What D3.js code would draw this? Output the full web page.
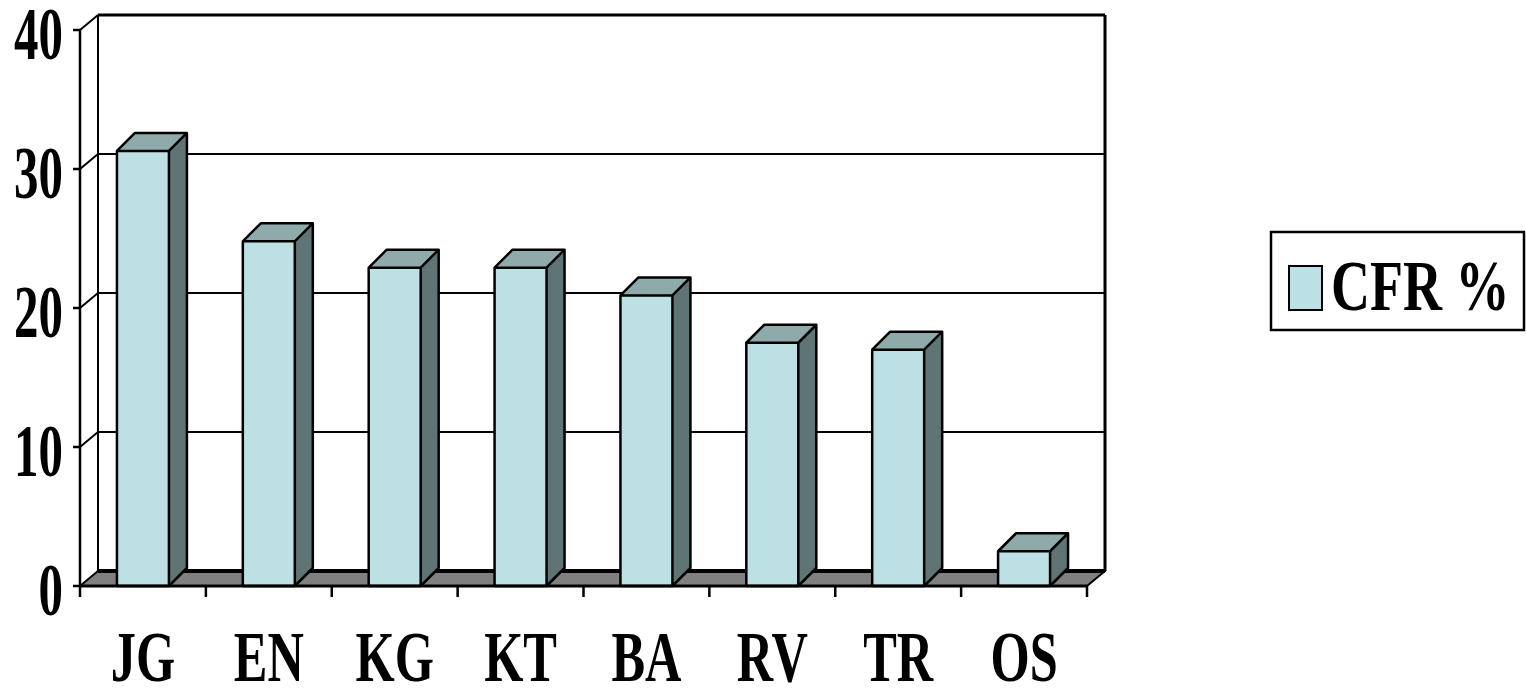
<!DOCTYPE html>
<html>
<head>
<meta charset="utf-8">
<script src="https://cdn.jsdelivr.net/npm/d3@7"></script>
<style>
  html, body { margin: 0; padding: 0; background: #fff; }
  svg { display: block; }
</style>
</head>
<body>
<div id="chartContainer"></div>
<script>
// Chart data
const categories = ["JG", "EN", "KG", "KT", "BA", "RV", "TR", "OS"];
const cfrValues = [31.3, 24.8, 22.9, 22.9, 20.9, 17.5, 17.0, 2.5];
const yTicks = [0, 10, 20, 30, 40];
const seriesName = "CFR %";

// Dimensions
const width = 1526;
const height = 688;
const plotLeft = 80;
const plotRight = 1087;
const plotBottom = 586;
const plotTop = 30;

// 3D depth offsets
const wallDx = 18, wallDy = -15;
const barDx = 18, barDy = -18;

// Colours
const frontColor = "#bce0e3";
const topColor = "#8eaaab";
const sideColor = "#5f7474";
const floorColor = "#808080";
const fontFamily = "Liberation Serif";

const x = d3.scaleBand()
    .domain(categories)
    .range([plotLeft, plotRight])
    .paddingInner(0.587)
    .paddingOuter(0.2935);

const y = d3.scaleLinear()
    .domain([0, 40])
    .range([plotBottom, plotTop]);

const svg = d3.create("svg")
    .attr("width", width)
    .attr("height", height)
    .attr("viewBox", [0, 0, width, height]);

// Append early so text can be measured
document.getElementById("chartContainer").appendChild(svg.node());

// Squeeze text horizontally, like the condensed face in the original
function condense(sel, k) {
    sel.each(function() {
        const len = this.getComputedTextLength();
        d3.select(this)
            .attr("textLength", len * k)
            .attr("lengthAdjust", "spacingAndGlyphs");
    });
}

// Back wall gridlines
svg.append("g")
    .selectAll("line")
    .data(yTicks.filter(d => d > 0))
    .join("line")
    .attr("x1", plotLeft + wallDx)
    .attr("x2", plotRight + wallDx)
    .attr("y1", d => y(d) + wallDy)
    .attr("y2", d => y(d) + wallDy)
    .attr("stroke", "#000")
    .attr("stroke-width", d => d === 40 ? 3 : 2);

// Left wall diagonals
svg.append("g")
    .selectAll("line")
    .data(yTicks.filter(d => d > 0))
    .join("line")
    .attr("x1", plotLeft)
    .attr("x2", plotLeft + wallDx)
    .attr("y1", d => y(d))
    .attr("y2", d => y(d) + wallDy)
    .attr("stroke", "#000")
    .attr("stroke-width", 2);

// Back wall verticals
svg.append("line")
    .attr("x1", plotLeft + wallDx).attr("x2", plotLeft + wallDx)
    .attr("y1", y(40) + wallDy).attr("y2", y(0) + wallDy)
    .attr("stroke", "#000").attr("stroke-width", 2);
svg.append("line")
    .attr("x1", plotRight + wallDx).attr("x2", plotRight + wallDx)
    .attr("y1", y(40) + wallDy).attr("y2", y(0) + wallDy)
    .attr("stroke", "#000").attr("stroke-width", 3);

// Floor
svg.append("path")
    .attr("d", d3.line()([
        [plotLeft, y(0)],
        [plotRight, y(0)],
        [plotRight + wallDx, y(0) + wallDy],
        [plotLeft + wallDx, y(0) + wallDy]
    ]) + "Z")
    .attr("fill", floorColor)
    .attr("stroke", "#000")
    .attr("stroke-width", 2)
    .attr("stroke-linejoin", "round");
svg.append("line")
    .attr("x1", plotLeft + wallDx).attr("x2", plotRight + wallDx)
    .attr("y1", y(0) + wallDy).attr("y2", y(0) + wallDy)
    .attr("stroke", "#000").attr("stroke-width", 4);

// Bars
const bars = svg.append("g")
    .selectAll("g")
    .data(categories.map((c, i) => ({ cat: c, value: cfrValues[i] })))
    .join("g");

bars.append("path")
    .attr("d", d => {
        const x1 = x(d.cat) + x.bandwidth(), yt = y(d.value), yb = y(0);
        return d3.line()([[x1, yb], [x1 + barDx, yb + barDy], [x1 + barDx, yt + barDy], [x1, yt]]) + "Z";
    })
    .attr("fill", sideColor);

bars.append("path")
    .attr("d", d => {
        const x0 = x(d.cat), x1 = x(d.cat) + x.bandwidth(), yt = y(d.value);
        return d3.line()([[x0, yt], [x0 + barDx, yt + barDy], [x1 + barDx, yt + barDy], [x1, yt]]) + "Z";
    })
    .attr("fill", topColor);

bars.append("rect")
    .attr("x", d => x(d.cat))
    .attr("y", d => y(d.value))
    .attr("width", x.bandwidth())
    .attr("height", d => y(0) - y(d.value))
    .attr("fill", frontColor);

// Bar outlines
bars.append("path")
    .attr("d", d => {
        const x0 = x(d.cat), x1 = x(d.cat) + x.bandwidth(), yt = y(d.value), yb = y(0);
        return d3.line()([[x0, yb], [x0, yt], [x0 + barDx, yt + barDy], [x1 + barDx, yt + barDy],
            [x1 + barDx, yb + barDy], [x1, yb], [x0, yb]]) +
            "M" + x1 + "," + yb + "L" + x1 + "," + yt + "L" + x0 + "," + yt +
            "M" + x1 + "," + yt + "L" + (x1 + barDx) + "," + (yt + barDy);
    })
    .attr("fill", "none")
    .attr("stroke", "#000")
    .attr("stroke-width", 2.5)
    .attr("stroke-linejoin", "round");

// Y axis
svg.append("line")
    .attr("x1", plotLeft).attr("x2", plotLeft)
    .attr("y1", y(40)).attr("y2", y(0))
    .attr("stroke", "#000").attr("stroke-width", 2.5);
svg.append("g")
    .selectAll("line")
    .data(yTicks)
    .join("line")
    .attr("x1", plotLeft - 7).attr("x2", plotLeft)
    .attr("y1", d => y(d)).attr("y2", d => y(d))
    .attr("stroke", "#000").attr("stroke-width", 2.5);
svg.append("g")
    .selectAll("text")
    .data(yTicks)
    .join("text")
    .attr("x", 63)
    .attr("y", d => y(d) + 29)
    .attr("text-anchor", "end")
    .attr("font-family", fontFamily)
    .attr("font-weight", "bold")
    .attr("font-size", 73)
    .text(d => d)
    .call(condense, 0.67);

// X axis
svg.append("line")
    .attr("x1", plotLeft).attr("x2", plotRight)
    .attr("y1", y(0)).attr("y2", y(0))
    .attr("stroke", "#000").attr("stroke-width", 3);
const step = x.step();
svg.append("g")
    .selectAll("line")
    .data(d3.range(categories.length + 1))
    .join("line")
    .attr("x1", i => plotLeft + i * step).attr("x2", i => plotLeft + i * step)
    .attr("y1", y(0)).attr("y2", y(0) + 11)
    .attr("stroke", "#000").attr("stroke-width", 2.5);
svg.append("g")
    .selectAll("text")
    .data(categories)
    .join("text")
    .attr("x", d => x(d) + x.bandwidth() / 2)
    .attr("y", 681)
    .attr("text-anchor", "middle")
    .attr("font-family", fontFamily)
    .attr("font-weight", "bold")
    .attr("font-size", 72)
    .text(d => d)
    .call(condense, 0.7);

// Legend
const legend = svg.append("g");
legend.append("rect")
    .attr("x", 1271).attr("y", 232)
    .attr("width", 253).attr("height", 98)
    .attr("fill", "#fff").attr("stroke", "#000").attr("stroke-width", 2.5);
legend.append("rect")
    .attr("x", 1289).attr("y", 266)
    .attr("width", 33).attr("height", 44)
    .attr("fill", frontColor).attr("stroke", "#000").attr("stroke-width", 2);
legend.append("text")
    .attr("x", 1331)
    .attr("y", 310)
    .attr("font-family", fontFamily)
    .attr("font-weight", "bold")
    .attr("font-size", 72)
    .text(seriesName)
    .call(condense, 0.75);
</script>
</body>
</html>
